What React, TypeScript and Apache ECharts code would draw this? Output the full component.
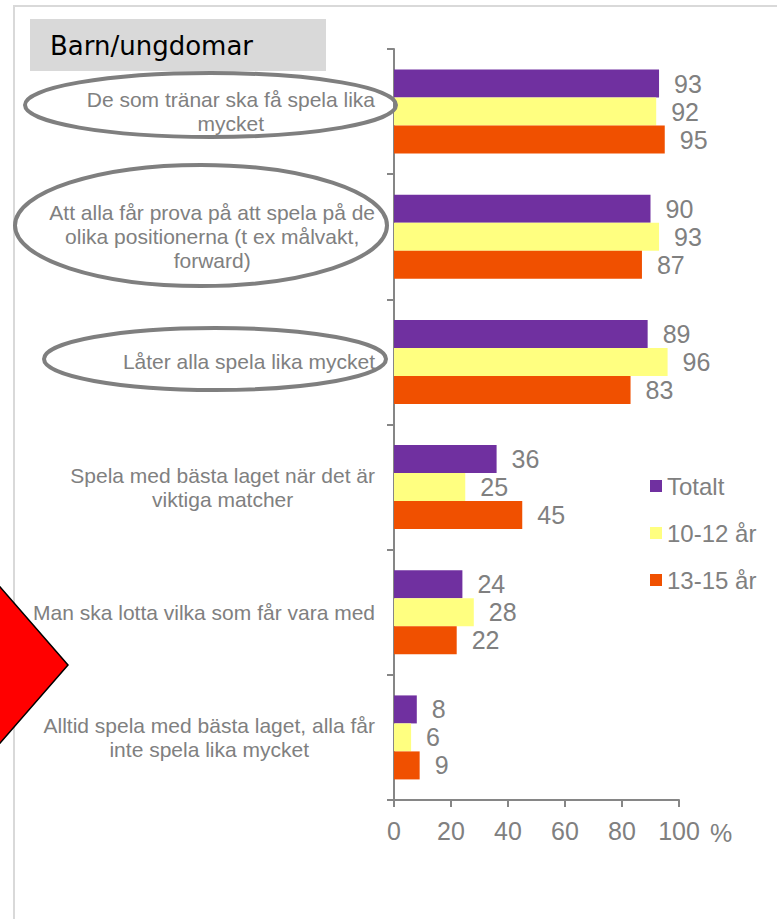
import React, { useEffect, useRef } from "react";
import * as echarts from "echarts";

const categories = [
  "De som tränar ska få spela lika\nmycket",
  "Att alla får prova på att spela på de\nolika positionerna (t ex målvakt,\nforward)",
  "Låter alla spela lika mycket",
  "Spela med bästa laget när det är\nviktiga matcher",
  "Man ska lotta vilka som får vara med",
  "Alltid spela med bästa laget, alla får\ninte spela lika mycket",
];
const seriesNames = ["Totalt", "10-12 år", "13-15 år"];
const totalt = [93, 90, 89, 36, 24, 8];
const age10to12 = [92, 93, 96, 25, 28, 6];
const age13to15 = [95, 87, 83, 45, 22, 9];
const xTicks = { min: 0, max: 100, interval: 20 };
const colors = ["#7030A0", "#FFFF80", "#F05000"];

export default function App() {
  const ref = useRef<HTMLDivElement>(null);
  useEffect(() => {
    if (!ref.current) return;
    const chart = echarts.init(ref.current, null, { renderer: "svg" });
    const gray = "#808080";
    const labelStyle = {
      show: true,
      position: "right" as const,
      distance: 15,
      color: gray,
      fontSize: 25,
      fontFamily: "Liberation Sans",
    };
    const data = [totalt, age10to12, age13to15];
    chart.setOption({
      animation: false,
      backgroundColor: "#ffffff",
      textStyle: { fontFamily: "Liberation Sans" },
      grid: { left: 394, right: 98, top: 49, bottom: 119, containLabel: false },
      legend: {
        orient: "vertical",
        left: 645,
        top: 469,
        itemWidth: 12,
        itemHeight: 12,
        itemGap: 23,
        icon: "rect",
        data: seriesNames,
        textStyle: { color: gray, fontSize: 24, fontFamily: "Liberation Sans" },
      },
      xAxis: {
        type: "value",
        min: xTicks.min,
        max: xTicks.max,
        interval: xTicks.interval,
        splitLine: { show: false },
        axisLine: { show: true, lineStyle: { color: "#868686", width: 2 } },
        axisTick: { show: true, length: 7, lineStyle: { color: "#868686", width: 2 } },
        axisLabel: { color: gray, fontSize: 25, margin: 18, fontFamily: "Liberation Sans" },
      },
      yAxis: {
        type: "category",
        inverse: true,
        data: categories,
        axisLine: { show: true, lineStyle: { color: "#868686", width: 2 } },
        axisTick: { show: true, length: 7, lineStyle: { color: "#868686", width: 2 } },
        axisLabel: {
          margin: 19,
          align: "right",
          formatter: (v: string) =>
            v
              .split("\n")
              .map((l) => `{c|${l}}`)
              .join("\n"),
          rich: {
            c: {
              align: "center",
              color: gray,
              fontSize: 21,
              lineHeight: 24,
              fontFamily: "Liberation Sans",
            },
          },
        },
      },
      series: seriesNames.map((name, i) => ({
        name,
        type: "bar",
        data: data[i],
        barWidth: 28,
        barGap: "0%",
        itemStyle: { color: colors[i] },
        label: labelStyle,
      })),
      graphic: [
        {
          type: "rect",
          shape: { x: 14, y: 6, width: 800, height: 1000 },
          style: { fill: "none", stroke: "#d9d9d9", lineWidth: 2 },
          z: -10,
        },
        {
          type: "rect",
          shape: { x: 30, y: 19, width: 296, height: 52 },
          style: { fill: "#d9d9d9" },
        },
        {
          type: "text",
          x: 50,
          y: 46,
          style: {
            text: "Barn/ungdomar",
            fill: "#000000",
            fontSize: 26,
            fontFamily: "DejaVu Sans",
            verticalAlign: "middle",
          },
        },
        {
          type: "ellipse",
          shape: { cx: 210.5, cy: 105, rx: 185.5, ry: 32 },
          style: { fill: "none", stroke: "#7f7f7f", lineWidth: 4 },
          z: 10,
        },
        {
          type: "ellipse",
          shape: { cx: 201, cy: 225.5, rx: 186, ry: 60.5 },
          style: { fill: "none", stroke: "#7f7f7f", lineWidth: 4 },
          z: 10,
        },
        {
          type: "ellipse",
          shape: { cx: 215, cy: 359, rx: 171, ry: 31 },
          style: { fill: "none", stroke: "#7f7f7f", lineWidth: 4 },
          z: 10,
        },
        {
          type: "polygon",
          shape: { points: [[-20, 564], [68, 665], [-20, 766]] },
          style: { fill: "#ff0000", stroke: "#000000", lineWidth: 1.5 },
          z: 10,
        },
        {
          type: "text",
          x: 710,
          y: 833,
          style: {
            text: "%",
            fill: gray,
            fontSize: 25,
            fontFamily: "Liberation Sans",
            verticalAlign: "middle",
          },
        },
      ],
    });
    return () => chart.dispose();
  }, []);
  return (
    <div
      ref={ref}
      style={{ position: "absolute", left: 0, top: 0, width: 777, height: 919 }}
    />
  );
}
